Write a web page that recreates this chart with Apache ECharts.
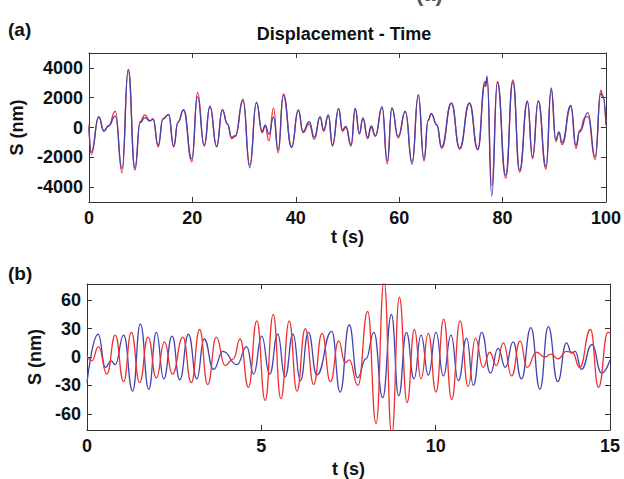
<!DOCTYPE html>
<html>
<head>
<meta charset="utf-8">
<script src="https://cdn.jsdelivr.net/npm/echarts@6/dist/echarts.min.js"></script>
<style>
  html, body { margin: 0; padding: 0; background: #fff; }
  #chart { width: 624px; height: 479px; }
</style>
</head>
<body>
<div id="chart"></div>
<script>
// Panel (a): displacement record, turning points as [t (s), S (nm)]
const dispBlue = [
  [0,0],[0.45,-1650],[1.9,730],[2.9,-220],[3.8,100],[5.1,770],[6.4,-2750],[7.6,3900],
  [8.9,-2850],[9.9,330],[10.8,660],[11.8,440],[12.4,550],[13.4,-1200],[14.3,550],[15.4,880],
  [16.4,-1250],[17.2,330],[18.3,1200],[19.9,-2100],[21.0,2050],[22.3,-1200],[23.4,1430],
  [24.7,-1250],[25.8,1200],[26.8,220],[27.6,-660],[28.3,-550],[29.8,1800],[31.1,-2700],
  [32.4,1700],[33.5,-250],[34.1,150],[34.8,-450],[35.7,700],[36.6,-1500],[37.6,2150],
  [39.2,-1300],[40.5,1180],[41.4,-270],[42.6,400],[43.6,-650],[44.7,730],[45.4,-150],
  [46.3,840],[47.1,-1160],[48.3,1290],[49.0,-150],[49.7,70],[50.7,-1160],[51.5,1290],
  [52.3,-380],[53.0,650],[53.9,-650],[54.6,100],[55.4,-550],[56.7,1400],[57.7,-2250],
  [58.6,1340],[59.8,-600],[61.2,1100],[62.5,-2470],[63.7,2200],[64.8,-2150],[65.6,500],
  [66.2,900],[67.3,180],[68.2,-1300],[70.1,1650],[71.7,-1380],[73.6,1650],[75.2,-1450],
  [76.6,3100],[76.75,2900],[77.0,3450],[77.9,-4600],[79.0,3030],[80.6,-3200],[82.0,3080],
  [83.3,-2860],[84.8,1780],[85.8,-1980],[86.9,1800],[88.4,-2640],[89.4,2650],[90.3,-820],
  [90.9,-300],[91.5,-1000],[93.2,1480],[94.2,-1200],[94.9,-300],[96.5,1000],[97.9,-1980],
  [99.0,2300],[99.4,2050],[100,150]
];
const dispRed = [
  [0,200],[0.45,-1800],[1.9,700],[2.9,-250],[3.8,120],[5.1,1100],[6.4,-3050],[7.6,3850],
  [8.9,-2700],[9.9,400],[10.8,850],[11.8,450],[12.4,600],[13.4,-1300],[14.3,600],[15.4,850],
  [16.4,-1300],[17.2,350],[18.3,1150],[19.9,-2300],[21.0,2350],[22.3,-1250],[23.4,1400],
  [24.7,-1300],[25.8,1150],[26.8,250],[27.6,-750],[28.3,-600],[29.8,1900],[31.1,-2500],
  [32.4,1650],[33.5,-350],[34.1,100],[34.8,-900],[35.7,1300],[36.6,-1700],[37.6,2250],
  [39.2,-1350],[40.5,1150],[41.4,-350],[42.6,250],[43.6,-800],[44.7,700],[45.4,-250],
  [46.3,800],[47.1,-1250],[48.3,1250],[49.0,-250],[49.7,0],[50.7,-1250],[51.5,1250],
  [52.3,-450],[53.0,600],[53.9,-750],[54.6,0],[55.4,-600],[56.7,1350],[57.7,-2450],
  [58.6,1300],[59.8,-700],[61.2,1050],[62.5,-2300],[63.7,2150],[64.8,-2250],[65.6,450],
  [66.2,950],[67.3,150],[68.2,-1400],[70.1,1600],[71.7,-1450],[73.6,1600],[75.2,-1500],
  [76.6,2900],[76.75,2750],[77.0,3300],[77.9,-3900],[79.0,3100],[80.6,-3400],[82.0,3200],
  [83.3,-3000],[84.8,1700],[85.8,-2100],[86.9,1750],[88.4,-2800],[89.4,2550],[90.3,-950],
  [90.9,-350],[91.5,-1150],[93.2,1400],[94.2,-1400],[94.9,-200],[96.0,700],[96.5,750],
  [97.9,-2150],[99.0,2500],[99.4,2150],[100,300]
];

// Panel (b): detail window, turning points as [t (s), S (nm)]
const detailBlue = [
  [0,-27],[0.32,24],[0.53,-11],[0.69,-4],[0.81,-8],[1.05,23],[1.31,-36],[1.53,35],
  [1.77,-34],[1.99,26],[2.2,-23],[2.44,22],[2.66,-24],[2.91,24],[3.15,-23],[3.36,19],
  [3.63,-13],[3.9,6],[4.3,-8],[4.58,11],[4.78,-18],[5.01,22],[5.24,-18],[5.47,24],
  [5.68,-21],[5.91,24],[6.12,-25],[6.35,26],[6.59,-19],[7.02,27],[7.26,-37],[7.52,34],
  [7.76,-22],[8.0,-2],[8.23,26],[8.48,-43],[8.73,45],[8.94,-41],[9.16,26],[9.38,-23],
  [9.58,23],[9.79,-19],[10.01,26],[10.22,-20],[10.44,23],[10.65,-25],[10.89,20],
  [11.08,-30],[11.32,26],[11.57,-17],[11.79,9],[12.0,-11],[12.22,16],[12.46,-23],
  [12.73,31],[12.99,-34],[13.23,32],[13.5,-26],[13.75,15],[13.9,4],[14.0,6],[14.18,-13],
  [14.48,13],[14.76,-17],[15,-3]
];
const detailRed = [
  [0,1],[0.14,-4],[0.33,11],[0.57,-18],[0.81,23],[1.05,-26],[1.27,26],[1.51,-27],
  [1.75,21],[1.99,-22],[2.22,16],[2.45,-18],[2.75,21],[2.99,-27],[3.23,29],[3.46,-29],
  [3.71,21],[3.96,-9],[4.2,-2],[4.39,19],[4.63,-32],[4.87,38],[5.11,-46],[5.34,45],
  [5.56,-44],[5.8,38],[6.02,-36],[6.26,30],[6.5,-29],[6.74,25],[6.98,-26],[7.22,17],
  [7.4,-6],[7.52,-3],[7.77,-30],[8.05,48],[8.29,-70],[8.52,80],[8.74,-82],[8.96,63],
  [9.18,-48],[9.39,29],[9.58,-23],[9.79,25],[10.01,-37],[10.23,40],[10.46,-45],[10.7,38],
  [10.93,-31],[11.14,20],[11.36,-11],[11.55,5],[11.74,-9],[11.94,15],[12.18,-20],
  [12.42,17],[12.62,-11],[12.89,5],[13.13,0],[13.32,3],[13.51,-2],[13.75,6],[13.92,5],
  [14.13,-11],[14.44,29],[14.67,-32],[14.94,26],[15,25]
];

// Tick values
const ticksAy = [-4000, -2000, 0, 2000, 4000];
const ticksBy = [-60, -30, 0, 30, 60];

const FONT = 'Liberation Sans, Arial, sans-serif';
const AXIS_COLOR = '#333';
const RED = '#ee3030';
const BLUE = '#4343b2';

const labelStyle = { fontFamily: FONT, fontWeight: 'bold', fontSize: 18, color: '#111' };
const plain = v => String(v);

function xAx(grid, min, max, interval, withName, nameGap, top) {
  return {
    type: 'value', gridIndex: grid, min, max, interval,
    position: top ? 'top' : 'bottom',
    name: withName ? 't (s)' : '', nameLocation: 'middle', nameGap,
    nameTextStyle: labelStyle,
    axisLine: { show: true, onZero: false, lineStyle: { color: AXIS_COLOR, width: 1 } },
    axisTick: { show: true, inside: true, length: 5, lineStyle: { color: AXIS_COLOR } },
    axisLabel: Object.assign({ show: !top, margin: 7, formatter: plain }, labelStyle),
    splitLine: { show: false }
  };
}
function yAx(grid, min, max, ticks, withName, nameGap, right) {
  return {
    type: 'value', gridIndex: grid, min, max,
    position: right ? 'right' : 'left',
    name: withName ? 'S (nm)' : '', nameLocation: 'middle', nameGap, nameRotate: 90,
    nameTextStyle: labelStyle,
    axisLine: { show: true, onZero: false, lineStyle: { color: AXIS_COLOR, width: 1 } },
    axisTick: { show: true, inside: true, length: 5, customValues: ticks, lineStyle: { color: AXIS_COLOR } },
    axisLabel: Object.assign({ show: !right, margin: 6, customValues: ticks, formatter: plain }, labelStyle),
    splitLine: { show: false }
  };
}
function line(data, color, xi, yi, z) {
  return {
    type: 'line', data, xAxisIndex: xi, yAxisIndex: yi, z,
    showSymbol: false, smooth: 0.5, smoothMonotone: 'x',
    lineStyle: { color, width: 1.3 }, itemStyle: { color },
    emphasis: { disabled: true }, silent: true, clip: true
  };
}

const chart = echarts.init(document.getElementById('chart'), null, { renderer: 'svg' });
chart.setOption({
  animation: false,
  backgroundColor: '#fff',
  grid: [
    { left: 87, top: 53, width: 523, height: 149 },
    { left: 87, top: 284, width: 523, height: 149 }
  ],
  xAxis: [
    xAx(0, 0, 100, 20, true, 25, false),
    xAx(0, 0, 100, 20, false, 0, true),
    xAx(1, 0, 15, 5, true, 30, false),
    xAx(1, 0, 15, 5, false, 0, true)
  ],
  yAxis: [
    yAx(0, -5000, 5000, ticksAy, true, 62, false),
    yAx(0, -5000, 5000, ticksAy, false, 0, true),
    yAx(1, -77, 77, ticksBy, true, 42, false),
    yAx(1, -77, 77, ticksBy, false, 0, true)
  ],
  series: [
    line(dispRed, RED, 0, 0, 2),
    line(dispBlue, BLUE, 0, 0, 3),
    line(detailBlue, BLUE, 2, 2, 2),
    line(detailRed, RED, 2, 2, 3)
  ],
  graphic: [
    // bottom edge of the preceding panel label, cut by the page top
    { type: 'text', x: 416, y: 4, style: { text: '(a)', font: 'bold 22px ' + FONT, fill: '#555', verticalAlign: 'bottom' } },
    { type: 'text', left: 8, top: 20, style: { text: '(a)', font: 'bold 19px ' + FONT, fill: '#111' } },
    { type: 'text', left: 8, top: 264, style: { text: '(b)', font: 'bold 19px ' + FONT, fill: '#111' } },
    { type: 'text', x: 344, y: 34, style: { text: 'Displacement - Time', font: 'bold 18px ' + FONT, fill: '#111', align: 'center', verticalAlign: 'middle' } }
  ]
});
</script>
</body>
</html>
